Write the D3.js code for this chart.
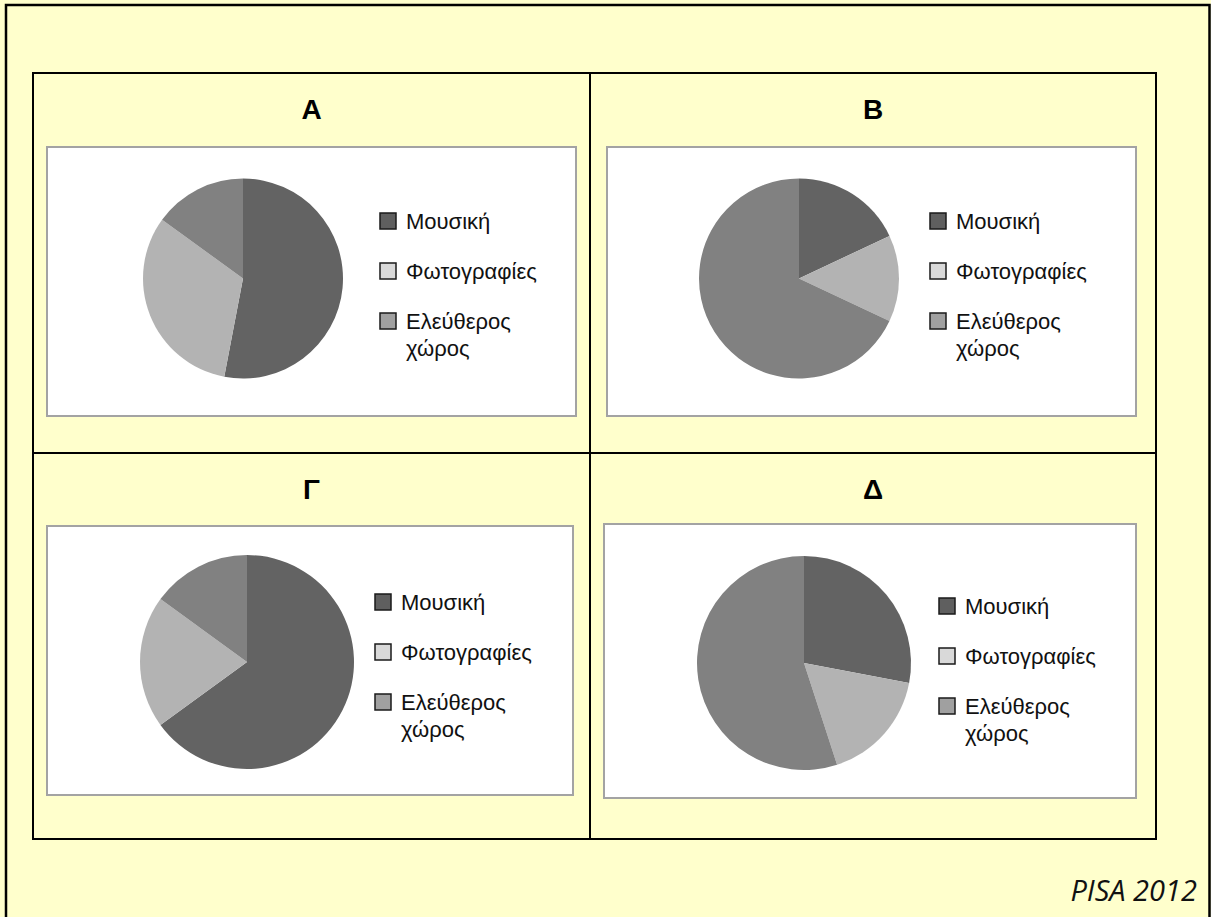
<!DOCTYPE html>
<html>
<head>
<meta charset="utf-8">
<script src="https://cdn.jsdelivr.net/npm/d3@7"></script>
<style>
  html, body { margin: 0; padding: 0; background: #ffffff; }
  svg { display: block; }
</style>
</head>
<body>
<svg id="chart" width="1211" height="917"></svg>
<script>
// Memory usage of four devices: share of music, photos and free space
const panels = ["Α", "Β", "Γ", "Δ"];
const categories = ["Μουσική", "Φωτογραφίες", "Ελεύθερος χώρος"];
const music  = [53, 18, 65, 28];
const photos = [32, 14, 20, 17];
const free   = [15, 68, 15, 55];
const source = "PISA 2012";

const sliceColors  = ["#636363", "#b3b3b3", "#818181"];
const legendColors = ["#5f5f5f", "#d9d9d9", "#a0a0a0"];

// Panel geometry: grid cell, white chart box, pie centre/radius, legend origin
const layout = [
  { cell: [33, 73, 590, 453],  box: [47, 147, 576, 416],  c: [243, 278.5], r: 100, lx: 380, ly: 221 },
  { cell: [590, 73, 1156, 453], box: [607, 147, 1136, 416], c: [799, 278.5], r: 100, lx: 930, ly: 221 },
  { cell: [33, 453, 590, 839], box: [47, 526, 573, 795],  c: [247, 662],   r: 107, lx: 375, ly: 602 },
  { cell: [590, 453, 1156, 839], box: [604, 524, 1136, 798], c: [804, 663], r: 107, lx: 939, ly: 606 }
];

const svg = d3.select("#chart");
const font = "'Liberation Sans', Arial, sans-serif";

// Page background and outer frame
svg.append("rect").attr("x", 0).attr("y", 0).attr("width", 1211).attr("height", 917).attr("fill", "#ffffcc");
svg.append("rect").attr("x", 6).attr("y", 5).attr("width", 1203.5).attr("height", 930)
  .attr("fill", "none").attr("stroke", "#000").attr("stroke-width", 2.5);

const color = d3.scaleOrdinal().domain(categories).range(sliceColors);
const legendColor = d3.scaleOrdinal().domain(categories).range(legendColors);
const pie = d3.pie().sort(null).value(d => d.value);

panels.forEach((name, i) => {
  const L = layout[i];
  const g = svg.append("g");

  // grid cell border
  g.append("rect")
    .attr("x", L.cell[0]).attr("y", L.cell[1])
    .attr("width", L.cell[2] - L.cell[0]).attr("height", L.cell[3] - L.cell[1])
    .attr("fill", "none").attr("stroke", "#000").attr("stroke-width", 2);

  // panel title
  g.append("text")
    .attr("x", (L.cell[0] + L.cell[2]) / 2).attr("y", L.cell[1] + 46)
    .attr("text-anchor", "middle")
    .attr("font-family", font).attr("font-weight", "bold").attr("font-size", 28)
    .attr("fill", "#000").text(name);

  // white chart area
  g.append("rect")
    .attr("x", L.box[0]).attr("y", L.box[1])
    .attr("width", L.box[2] - L.box[0]).attr("height", L.box[3] - L.box[1])
    .attr("fill", "#fff").attr("stroke", "#a3a3a3").attr("stroke-width", 2);

  const data = categories.map((c, k) => ({ cat: c, value: [music, photos, free][k][i] }));
  const arc = d3.arc().innerRadius(0).outerRadius(L.r);

  g.append("g").attr("transform", `translate(${L.c[0]},${L.c[1]})`)
    .selectAll("path").data(pie(data)).join("path")
    .attr("d", arc)
    .attr("fill", d => color(d.data.cat));

  // legend
  const rowGap = 50;
  const lg = g.append("g");
  categories.forEach((c, k) => {
    const cy = L.ly + k * rowGap;
    lg.append("rect")
      .attr("x", L.lx).attr("y", cy - 8).attr("width", 16).attr("height", 16)
      .attr("fill", legendColor(c)).attr("stroke", "#1a1a1a").attr("stroke-width", 1.5);
    const words = c.split(" ");
    words.forEach((w, j) => {
      lg.append("text")
        .attr("x", L.lx + 26).attr("y", cy + 8 + j * 26.5)
        .attr("font-family", font).attr("font-size", 22)
        .attr("fill", "#111").text(w);
    });
  });
});

// source note
svg.append("text")
  .attr("x", 1197).attr("y", 901)
  .attr("text-anchor", "end")
  .attr("font-family", "'Open Sans', sans-serif").attr("font-style", "italic")
  .attr("font-size", 29).attr("fill", "#111").text(source);
</script>
</body>
</html>
